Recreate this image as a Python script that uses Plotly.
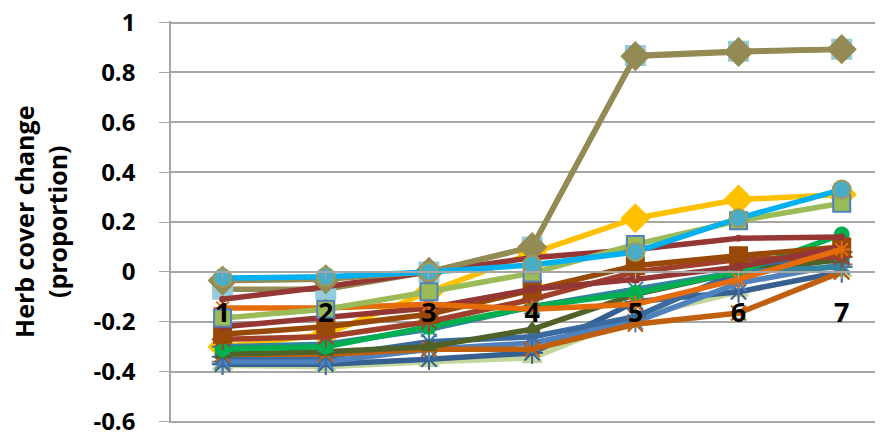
import plotly.graph_objects as go

categories = [1, 2, 3, 4, 5, 6, 7]
tick_labels = ["1", "2", "3", "4", "5", "6", "7"]
y_ticks = [-0.6, -0.4, -0.2, 0, 0.2, 0.4, 0.6, 0.8, 1.0]
y_tick_labels = ["-0.6", "-0.4", "-0.2", "0", "0.2", "0.4", "0.6", "0.8", "1"]

# series values (herb cover change, proportion)
lightblue_sq = [-0.07, -0.07, 0.0, 0.10, 0.868, 0.885, 0.893]
yellow = [-0.30, -0.25, -0.08, 0.075, 0.215, 0.29, 0.31]
tri_lgreen = [-0.375, -0.38, -0.36, -0.345, -0.18, -0.08, 0.0]
blue3 = [-0.37, -0.37, -0.35, -0.325, -0.12, -0.08, 0.0]
blue2 = [-0.36, -0.36, -0.31, -0.285, -0.20, -0.045, 0.03]
blue1 = [-0.34, -0.34, -0.28, -0.26, -0.18, 0.0, 0.08]
brown_x = [-0.33, -0.33, -0.31, -0.31, -0.21, -0.165, 0.0]
dark_olive = [-0.33, -0.32, -0.30, -0.23, -0.09, 0.0, 0.05]
teal = [-0.30, -0.29, -0.23, -0.14, -0.07, 0.0, 0.02]
green = [-0.31, -0.30, -0.22, -0.14, -0.085, 0.0, 0.15]
brown_ast = [-0.27, -0.26, -0.20, -0.11, 0.0, 0.05, 0.06]
brown_sq = [-0.25, -0.22, -0.17, -0.07, 0.025, 0.065, 0.10]
darkred2 = [-0.22, -0.18, -0.145, -0.07, -0.03, 0.02, 0.10]
orange = [-0.145, -0.145, -0.13, -0.15, -0.13, -0.03, 0.09]
darkred1 = [-0.11, -0.06, 0.0, 0.057, 0.09, 0.135, 0.14]
olive = [-0.035, -0.03, 0.0, 0.10, 0.865, 0.882, 0.893]
lgreen_sq = [-0.185, -0.15, -0.08, -0.005, 0.11, 0.205, 0.275]
lblue_circ = [-0.025, -0.02, 0.0, 0.028, 0.08, 0.215, 0.33]

series = [
    ("S1", lightblue_sq, "#948A54", "square", "#93CDDD", "#93CDDD", 19),
    ("S2", yellow, "#FFC000", "diamond", "#FFC000", "#FFC000", 21),
    ("S3", tri_lgreen, "#C3D69B", "triangle-up", "#C3D69B", "#C3D69B", 17),
    ("S4", blue3, "#376092", "asterisk-open", "#376092", "#376092", 18),
    ("S5", blue2, "#4F81BD", "asterisk-open", "#4F81BD", "#4F81BD", 18),
    ("S6", blue1, "#3B6AA0", "asterisk-open", "#3B6AA0", "#3B6AA0", 18),
    ("S7", brown_x, "#C0600F", "x-thin-open", "#C0600F", "#C0600F", 15),
    ("S8", dark_olive, "#4F6228", "triangle-up", "#4F6228", "#4F6228", 13),
    ("S9", teal, "#31859C", "asterisk-open", "#31859C", "#31859C", 18),
    ("S10", green, "#00B050", "circle", "#00B050", "#00B050", 14),
    ("S11", brown_ast, "#A0402A", "asterisk-open", "#A0402A", "#A0402A", 18),
    ("S12", brown_sq, "#984807", "square", "#984807", "#984807", 17),
    ("S13", darkred2, "#943634", "square", "#943634", "#943634", 6),
    ("S14", orange, "#E46C0A", "asterisk-open", "#E46C0A", "#E46C0A", 15),
    ("S15", darkred1, "#953735", "circle", "#953735", "#953735", 5),
    ("S16", olive, "#948A54", "diamond", "#948A54", "#948A54", 21),
    ("S17", lgreen_sq, "#9BBB59", "square", "#9BBB59", "#4F81BD", 17),
    ("S18", lblue_circ, "#00B0F0", "circle", "#4BACC6", "#9B9B60", 18),
]

fig = go.Figure()
for name, vals, lc, sym, fc, bc, sz in series:
    fig.add_trace(go.Scatter(
        x=categories, y=vals, name=name, mode="lines+markers",
        line=dict(color=lc, width=5.5),
        marker=dict(symbol=sym, size=sz, color=fc,
                    line=dict(color=bc, width=2)),
        showlegend=False,
    ))

# page body has an 8px margin: figure is sized/placed to compensate
fig.add_annotation(
    text="Herb cover change<br>(proportion)",
    xref="paper", yref="paper", x=-(163 - 32) / 712, y=0.5,
    xanchor="center", yanchor="middle", textangle=-90, showarrow=False,
    font=dict(family="Open Sans", size=25, color="#000000", weight="bold"),
)

fig.update_layout(
    width=875, height=426,
    margin=dict(l=163, r=0, t=12.5, b=10.5),
    paper_bgcolor="white", plot_bgcolor="white",
    xaxis=dict(
        range=[0.5, 7.4], tickvals=categories, ticktext=tick_labels,
        anchor="free", position=(0.606) / 1.612,
        showgrid=False, zeroline=False,
        showline=True, linecolor="#A6A6A6", linewidth=1.5,
        ticks="outside", tickson="boundaries", ticklen=6, tickcolor="#A6A6A6",
        ticklabelstandoff=11,
        tickfont=dict(family="Open Sans", size=27, color="#000000", weight="bold"),
        automargin=False,
    ),
    yaxis=dict(
        range=[-0.606, 1.006],
        tickvals=y_ticks, ticktext=y_tick_labels,
        ticklabeloverflow="allow",
        showgrid=True, gridcolor="#A6A6A6", gridwidth=1.5,
        zeroline=False,
        showline=True, linecolor="#A6A6A6", linewidth=1.5,
        ticks="outside", ticklen=10, tickcolor="#A6A6A6",
        ticklabelstandoff=19,
        tickfont=dict(family="Open Sans", size=24, color="#000000", weight="bold"),
        automargin=False,
    ),
)

fig.write_html("out.html")
